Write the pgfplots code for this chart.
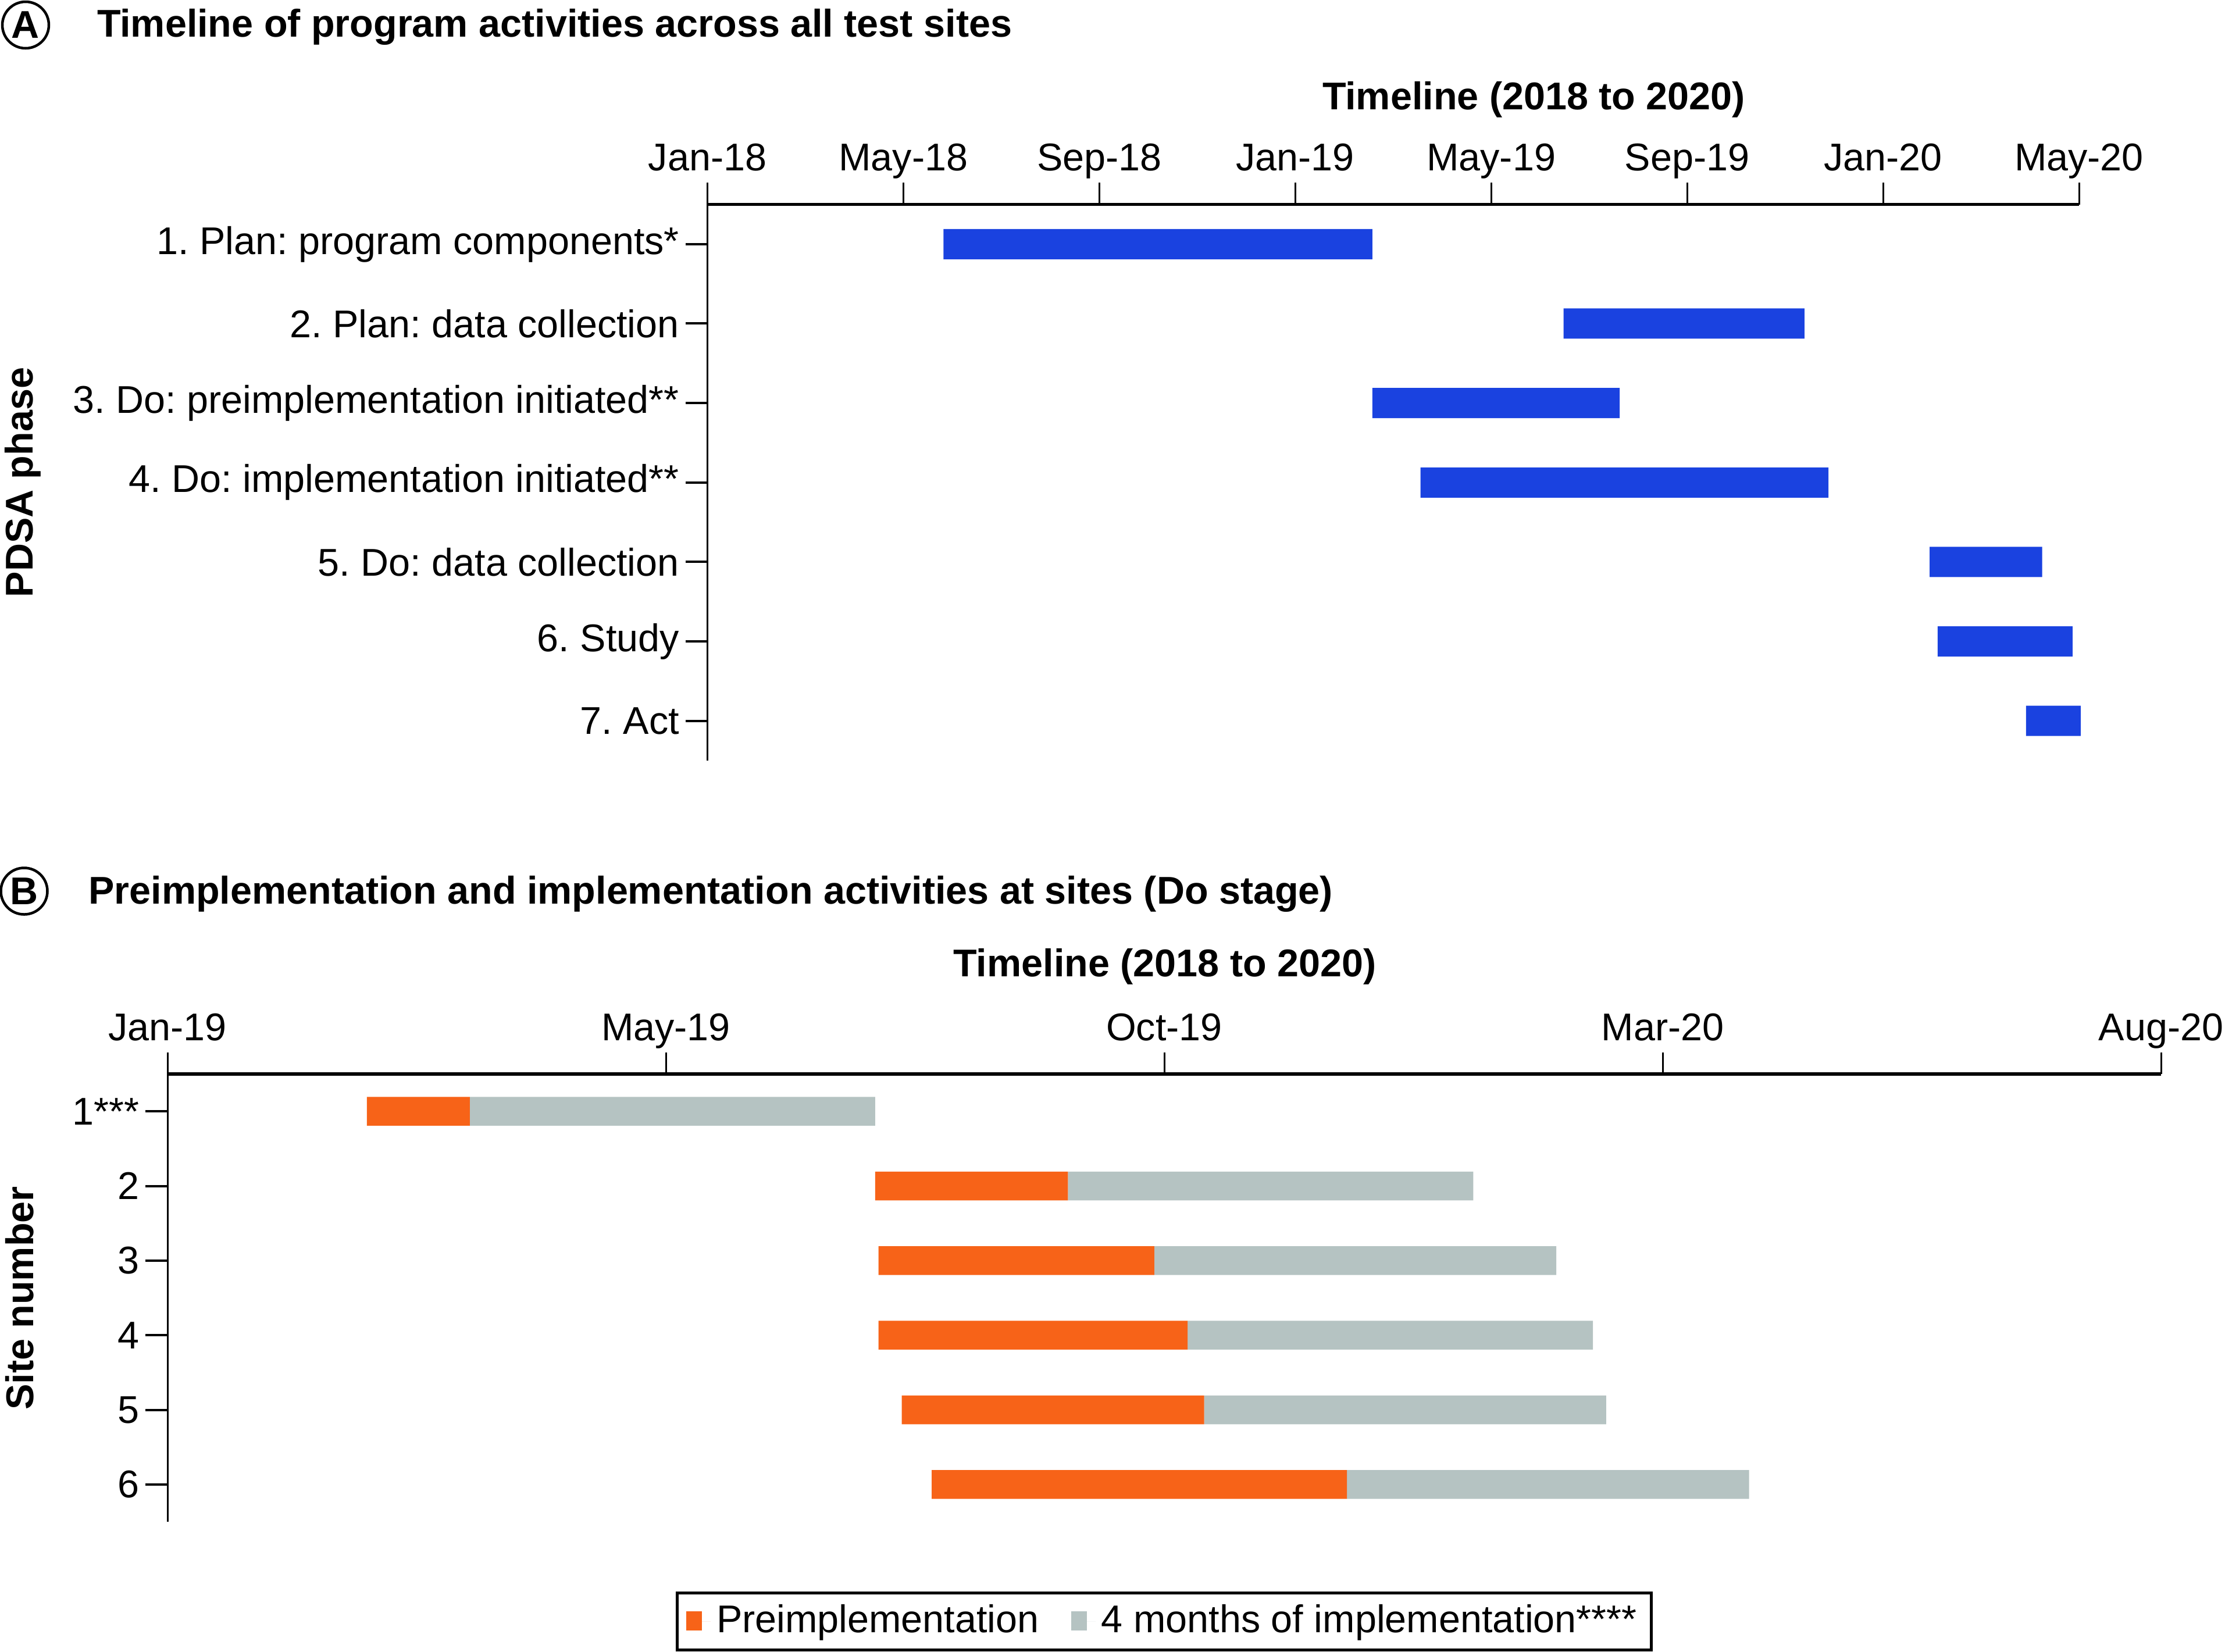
\documentclass[border=0pt]{standalone}
\usepackage{fontspec}
\setmainfont{Liberation Sans}
\usepackage{pgfplots}
\pgfplotsset{compat=1.18}
\definecolor{barblue}{RGB}{26,66,224}
\definecolor{preorange}{RGB}{247,99,24}
\definecolor{implgray}{RGB}{181,195,194}
\newcommand{\fs}{\fontsize{13.3}{16}\selectfont}
\begin{document}
\frenchspacing
\fs
\begin{tikzpicture}
\path[use as bounding box] (0pt,0pt) rectangle (765.2pt,-568pt);
\pgfplotsset{
  ganttstyle/.style={
    scale only axis,
    axis x line=top,
    axis y line=left,
    x axis line style={-, line width=1.1pt},
    y axis line style={-, line width=0.6pt},
    tick align=outside,
    major tick length=7.5pt,
    xtick style={line width=0.6pt, black},
    ytick style={line width=0.8pt, black},
    tick label style={font=\fs},
    x tick label style={text depth=0pt, yshift=-0.6pt},
    y tick label style={xshift=2.4pt},
    y dir=reverse,
    xbar stacked,
    clip=false,
    enlargelimits=false,
  }
}
% Panel A
\node[circle, draw, line width=0.9pt, inner sep=0pt, minimum size=16pt, font=\fs\bfseries] at (8.8pt,-8.6pt) {A};
\node[anchor=west, font=\fs\bfseries, inner sep=0pt] at (33.2pt,-9.3pt) {Timeline of program activities across all test sites};
\node[font=\fs\bfseries] at (527.5pt,-34.2pt) {Timeline (2018 to 2020)};
\node[font=\fs\bfseries, rotate=90] at (7.8pt,-165.9pt) {PDSA phase};
\begin{axis}[ganttstyle, at={(243.3pt,-70.3pt)}, anchor=north west,
  width=471.7pt, height=191.3pt,
  xmin=0, xmax=854, ymin=0.5, ymax=7.5,
  xtick={0,122,244,366,488,610,732,854},
  xticklabels={Jan-18,May-18,Sep-18,Jan-19,May-19,Sep-19,Jan-20,May-20},
  ytick={1,2,3,4,5,6,7},
  yticklabels={1. Plan: program components*, 2. Plan: data collection, 3. Do: preimplementation initiated**, 4. Do: implementation initiated**, 5. Do: data collection, 6. Study, 7. Act},
  bar width=10.4pt]
\addplot[draw=none, fill=none, forget plot] coordinates {(147,1) (533,2) (414,3) (444,4) (761,5) (766,6) (821,7)};
\addplot[draw=none, fill=barblue] coordinates {(267,1) (150,2) (154,3) (254,4) (70,5) (84,6) (34,7)};
\end{axis}
% Panel B
\node[circle, draw, line width=0.9pt, inner sep=0pt, minimum size=16pt, font=\fs\bfseries] at (8.3pt,-306.5pt) {B};
\node[anchor=west, font=\fs\bfseries, inner sep=0pt] at (30.3pt,-307.5pt) {Preimplementation and implementation activities at sites (Do stage)};
\node[font=\fs\bfseries] at (400.6pt,-332.4pt) {Timeline (2018 to 2020)};
\node[font=\fs\bfseries, rotate=90] at (6.8pt,-446.5pt) {Site number};
\begin{axis}[ganttstyle, at={(57.6pt,-369.4pt)}, anchor=north west,
  width=685.6pt, height=154pt,
  xmin=0, xmax=600, ymin=0.5, ymax=6.5,
  xtick={0,150,300,450,600},
  xticklabels={Jan-19,May-19,Oct-19,Mar-20,Aug-20},
  ytick={1,2,3,4,5,6},
  yticklabels={1***,2,3,4,5,6},
  bar width=9.9pt,
  legend columns=2,
  legend style={at={(0.5,-0.223)}, anchor=center, draw=black, line width=1pt, font=\fs,
    /tikz/every even column/.append style={column sep=9pt}},
  legend image code/.code={\fill[#1] (0pt,-3pt) rectangle (5.5pt,3.5pt); \path (0pt,0pt) -- (8.5pt,0pt);}]
\addplot[draw=none, fill=none, forget plot] coordinates {(60,1) (213,2) (214,3) (214,4) (221,5) (230,6)};
\addplot[draw=none, fill=preorange] coordinates {(31,1) (58,2) (83,3) (93,4) (91,5) (125,6)};
\addplot[draw=none, fill=implgray] coordinates {(122,1) (122,2) (121,3) (122,4) (121,5) (121,6)};
\legend{Preimplementation, 4 months of implementation****}
\end{axis}
\end{tikzpicture}
\end{document}
